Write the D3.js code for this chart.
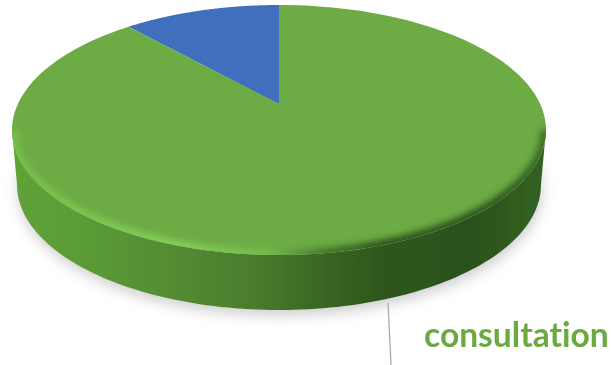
<!DOCTYPE html>
<html>
<head>
<meta charset="utf-8">
<script src="https://cdn.jsdelivr.net/npm/d3@7/dist/d3.min.js"></script>
<style>
html,body{margin:0;padding:0;background:#fff;overflow:hidden}
svg{display:block}
</style>
</head>
<body>
<svg id="chart" width="611" height="365"></svg>
<script>
// Consultation share shown as a tilted 3D pie
const categories = ["other", "consultation"];
const shares = [11.6, 88.4];
const sliceColors = ["#4070bd", "#6dab45"];
const labelText = "consultation";

const svg = d3.select("#chart");
const width = 611, height = 365;

// Perspective of the disc: hub, far rim and near rim on the page
const hubX = 279, hubY = 104, farY = 5, nearY = 255;
const halfWidth = 267, thickness = 55, baseScale = 0.981;
const c = -(151 - 99) / (nearY - farY);   // foreshortening
const a = 99 + 5 * c;
const k = halfWidth * Math.sqrt(1 - c * c);

// Pie angle to page position; 0 points to the far rim, angles run clockwise
function rim(theta, r = 1, base = false) {
  const u = r * Math.sin(theta), v = -r * Math.cos(theta);
  const d = 1 + c * v;
  let x = k * u / d, y = (a * v + hubY) / d;
  if (base) { x *= baseScale; y += thickness; }
  return [hubX + x, y];
}

const line = d3.line();
const tau = 2 * Math.PI;
const arcPoints = (from, to, base = false) =>
  d3.range(0, 121).map(i => rim(from + (to - from) * i / 120, 1, base));

// Angles from the library's pie layout, first slice running back from the top
const pie = d3.pie().sort(null).value(d => d).startAngle(0).endAngle(-tau);
const slices = pie(shares);

const defs = svg.append("defs");

function gradient(id, stops) {
  const g = defs.append("linearGradient").attr("id", id)
    .attr("gradientUnits", "userSpaceOnUse")
    .attr("x1", 10).attr("x2", 550).attr("y1", 0).attr("y2", 0);
  stops.forEach(([o, col]) => g.append("stop").attr("offset", o).attr("stop-color", col));
}
gradient("wall", [[0, "#5fa339"], [0.15, "#5a9a36"], [0.3, "#548c33"], [0.45, "#4a7c2c"],
  [0.56, "#3b6924"], [0.68, "#2f581c"], [0.85, "#2b511a"], [1, "#346322"]]);
gradient("edge", [[0, "#74c046"], [0.3, "#84ce59"], [0.48, "#74bd4d"], [0.58, "#44782a"],
  [0.68, "#2e551b"], [0.9, "#2e571c"], [1, "#3d7027"]]);

const blur = (id, s) => defs.append("filter").attr("id", id)
  .attr("x", "-10%").attr("y", "-10%").attr("width", "120%").attr("height", "125%")
  .append("feGaussianBlur").attr("stdDeviation", s);
blur("soft", 7);
blur("rimBlur", 3);
blur("fine", 0.5);

// Top surface outline, used to keep the rim shading on the disc
const topOutline = arcPoints(0, tau);
defs.append("clipPath").attr("id", "topClip")
  .append("path").attr("d", line(topOutline) + "Z");

const root = svg.append("g").attr("filter", "url(#fine)");

// Cast shadow under the disc
root.append("path")
  .attr("d", line(arcPoints(0, tau, true).map(([x, y]) => [x + 1, y + 5])) + "Z")
  .attr("fill", "#9a9a9a").attr("opacity", 0.5).attr("filter", "url(#soft)");

// Side wall: near half of the rim joined to the near half of the base
const widest = Math.acos(c);        // angle where the rim is widest
const wall = arcPoints(widest, tau - widest)
  .concat(arcPoints(tau - widest, widest, true));
root.append("path").attr("d", line(wall) + "Z").attr("fill", "url(#wall)");

// Top surface slices
const sliceGroup = root.append("g");
slices.forEach((s, i) => {
  const pts = [[hubX, hubY]].concat(
    d3.range(0, 181).map(j => rim(s.startAngle + (s.endAngle - s.startAngle) * j / 180)));
  sliceGroup.append("path")
    .datum(categories[i])
    .attr("d", line(pts) + "Z")
    .attr("fill", sliceColors[i]);
});

// Bevel along the near edge of the top surface
root.append("g").attr("clip-path", "url(#topClip)")
  .append("path")
  .attr("d", line(arcPoints(widest, tau - widest)))
  .attr("fill", "none").attr("stroke", "url(#edge)")
  .attr("stroke-width", 11).attr("filter", "url(#rimBlur)");

// Leader line and category label
const labelAnchor = { x: 388, y: 303 };
root.append("line")
  .attr("x1", labelAnchor.x).attr("y1", labelAnchor.y)
  .attr("x2", labelAnchor.x + 3).attr("y2", height)
  .attr("stroke", "#a6a6a6").attr("stroke-width", 1.2);

root.append("text")
  .attr("x", 424).attr("y", 347)
  .attr("font-family", "Lato, 'Open Sans', sans-serif")
  .attr("font-weight", 700).attr("font-size", 33.6)
  .style("font-variant-ligatures", "none")
  .attr("fill", "#6aaa40")
  .text(labelText);
</script>
</body>
</html>
